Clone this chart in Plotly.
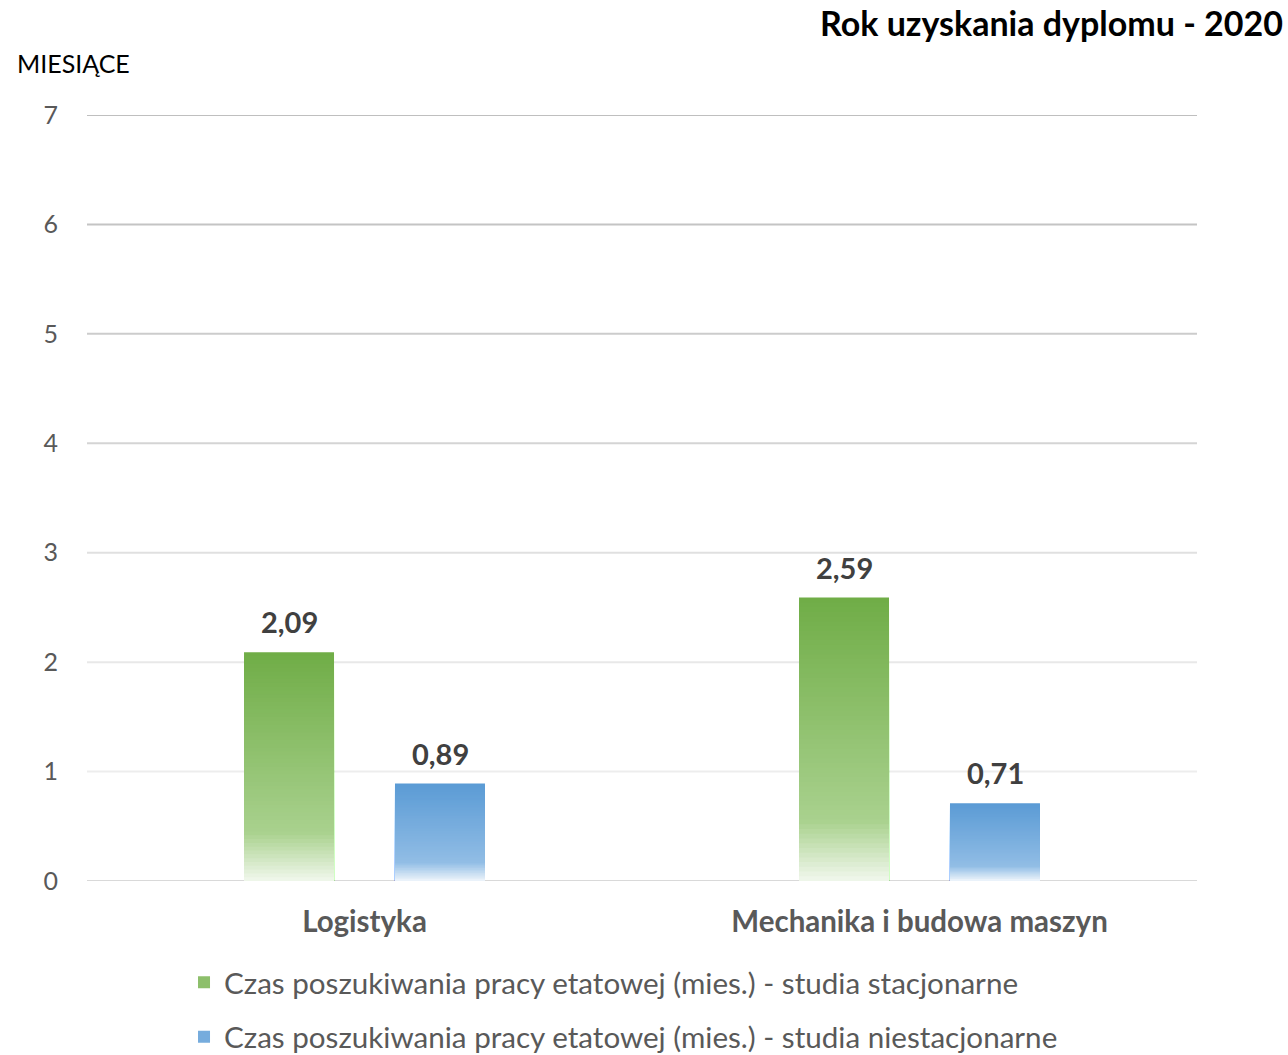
import plotly.graph_objects as go

categories = ["Logistyka", "Mechanika i budowa maszyn"]
series_names = [
    "Czas poszukiwania pracy etatowej (mies.) - studia stacjonarne",
    "Czas poszukiwania pracy etatowej (mies.) - studia niestacjonarne",
]
stacjonarne = [2.09, 2.59]
niestacjonarne = [0.89, 0.71]
y_ticks = [0, 1, 2, 3, 4, 5, 6, 7]

# styling: gridline colours per tick (fading from top to bottom as in the reference)
grid_colors = ["#D9D9D9", "#EDEDED", "#E8E8E8", "#E0E0E0", "#D4D4D4", "#CCCCCC", "#C4C4C4", "#BFBFBF"]

# gradient stops: (fraction from top of bar, colour)
green_stops = [(0.0, (112, 173, 71)), (0.78, (169, 209, 142)), (1.0, (244, 249, 241))]
blue_stops = [(0.0, (91, 155, 213)), (0.8, (145, 189, 229)), (1.0, (242, 247, 252))]

N = 60


def grad_color(stops, t):
    for (t0, c0), (t1, c1) in zip(stops[:-1], stops[1:]):
        if t0 <= t <= t1:
            f = (t - t0) / (t1 - t0) if t1 > t0 else 0
            c = [round(a + (b - a) * f) for a, b in zip(c0, c1)]
            return "rgb(%d,%d,%d)" % tuple(c)
    return "rgb(%d,%d,%d)" % stops[-1][1]


fig = go.Figure()
SHIFT = 75.5

for name, vals, stops, grp in [
    (series_names[0], stacjonarne, green_stops, "g"),
    (series_names[1], niestacjonarne, blue_stops, "b"),
]:
    for k in range(N):
        frac = (N - k) / N
        fig.add_trace(go.Bar(
            x=categories,
            y=[v * frac for v in vals],
            offsetgroup=grp,
            legendgroup=grp,
            name=name,
            showlegend=(k == int(N * 0.4)),
            marker=dict(color=grad_color(stops, k / N), line=dict(width=0)),
            hoverinfo="skip",
        ))

# gridlines drawn at the tick values
for t, col in zip(y_ticks, grid_colors):
    fig.add_shape(type="line", xref="paper", x0=0, x1=1, yref="y", y0=t, y1=t,
                  line=dict(color=col, width=2), layer="below")

# data labels
for vals, sh in [(stacjonarne, -SHIFT), (niestacjonarne, SHIFT)]:
    for c, v in zip(categories, vals):
        fig.add_annotation(
            x=c, y=v, xref="x", yref="y", xshift=sh, yshift=11,
            yanchor="bottom", showarrow=False,
            text="<b>" + f"{v:.2f}".replace(".", ",") + "</b>",
            font=dict(family="Lato", size=29, color="#404040"),
        )

fig.add_annotation(
    xref="paper", yref="paper", x=-0.0649, y=1.0679, xanchor="left", yanchor="middle",
    text="MIESIĄCE", showarrow=False,
    font=dict(family="Lato", size=25, color="#000000"),
)

fig.update_layout(
    width=1288, height=1055,
    paper_bgcolor="white", plot_bgcolor="white",
    margin=dict(l=87, r=91, t=115, b=174, autoexpand=False),
    barmode="group", bargap=0.456, bargroupgap=0.404,
    title=dict(
        text="<b>Rok uzyskania dyplomu - 2020</b>",
        xref="container", yref="container", x=1283 / 1288, y=1 - 24 / 1055,
        xanchor="right", yanchor="middle",
        font=dict(family="Lato", size=34, color="#000000"),
    ),
    legend=dict(
        x=0.0874, y=-0.0985, xanchor="left", yanchor="top",
        traceorder="grouped", tracegroupgap=13,
        font=dict(family="Lato", size=29.6, color="#595959"),
        bgcolor="rgba(0,0,0,0)",
    ),
    showlegend=True,
)
fig.update_xaxes(
    type="category", showgrid=False, showline=False, ticks="",
    ticklabelstandoff=20, tickangle=0,
    tickfont=dict(family="Lato", size=29.5, color="#595959"),
    tickvals=categories, ticktext=["<b>%s</b>" % c for c in categories],
)
fig.update_yaxes(
    range=[0, 7], tickvals=y_ticks, ticktext=[str(t) for t in y_ticks],
    showgrid=False, zeroline=False,
    showline=False, ticks="", ticklabelstandoff=28,
    tickfont=dict(family="Lato", size=25, color="#595959"),
)

fig.write_html("out.html", config={"displayModeBar": False},
               post_script="document.body.style.margin='0';")
